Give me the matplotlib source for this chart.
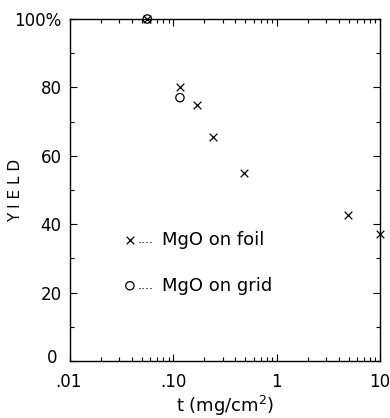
import matplotlib
matplotlib.use("Agg")
import matplotlib.pyplot as plt
import matplotlib.transforms as mtransforms
from matplotlib.ticker import LogLocator, NullFormatter, MultipleLocator

# values
foil_t = [0.056, 0.116, 0.168, 0.244, 0.483, 4.94, 10.0]
foil_yield = [100, 80, 75, 65.5, 55, 42.7, 37]
grid_t = [0.056, 0.116]
grid_yield = [100, 77]

xticks = [0.01, 0.1, 1, 10]
xticklabels = [".01", ".10", "1", "10"]
yticks = [0, 20, 40, 60, 80, 100]
yticklabels = ["0", "20", "40", "60", "80", "100%"]

plt.rcParams["font.family"] = "DejaVu Sans"
fig = plt.figure(figsize=(3.9, 4.18), dpi=100)
ax = fig.add_axes([0.1795, 0.1364, 0.7945, 0.8181])

ax.scatter(foil_t, foil_yield, marker="x", s=30, c="black", linewidths=0.9, zorder=3, clip_on=False)
ax.scatter(grid_t, grid_yield, marker="o", s=36, facecolors="none", edgecolors="black",
           linewidths=0.9, zorder=3, clip_on=False)

ax.set_xscale("log")
ax.set_xlim(0.01, 10)
ax.set_ylim(0, 100)
ax.set_xticks(xticks)
ax.set_xticklabels(xticklabels)
ax.xaxis.set_minor_locator(LogLocator(base=10, subs=range(2, 10)))
ax.xaxis.set_minor_formatter(NullFormatter())
ax.set_yticks(yticks)
ax.set_yticklabels(yticklabels)
ax.yaxis.set_minor_locator(MultipleLocator(10))

ax.tick_params(which="both", direction="in", top=True, right=True, labelsize=12, width=0.8)
ax.tick_params(which="major", length=5)
ax.tick_params(axis="x", which="major", pad=9)
ax.tick_params(axis="y", which="major", pad=6)
ax.tick_params(which="minor", length=3)
for s in ax.spines.values():
    s.set_linewidth(1.0)

# nudge the corner labels apart like the original
ax.get_yticklabels()[0].set_transform(
    ax.get_yticklabels()[0].get_transform() + mtransforms.ScaledTranslation(-0.04, 0.05, fig.dpi_scale_trans))
ax.get_xticklabels()[0].set_transform(
    ax.get_xticklabels()[0].get_transform() + mtransforms.ScaledTranslation(-0.02, 0, fig.dpi_scale_trans))

ax.set_xlabel("t (mg/cm$^2$)", fontsize=13, labelpad=2)
ax.set_ylabel("Y I E L D", fontsize=11)
ax.yaxis.set_label_coords(-0.152, 0.5)

# legend drawn as in the figure: marker, dotted leader, text
ax.scatter([0.038], [35.5], marker="x", s=30, c="black", linewidths=0.9)
ax.scatter([0.038], [22], marker="o", s=36, facecolors="none", edgecolors="black", linewidths=0.9)
ax.text(0.045, 35.5, "....", fontsize=9, va="center")
ax.text(0.045, 22, "....", fontsize=9, va="center")
ax.text(0.078, 35.5, "MgO on foil", fontsize=13, va="center")
ax.text(0.078, 22, "MgO on grid", fontsize=13, va="center")

fig.savefig("out.png", dpi=100)
